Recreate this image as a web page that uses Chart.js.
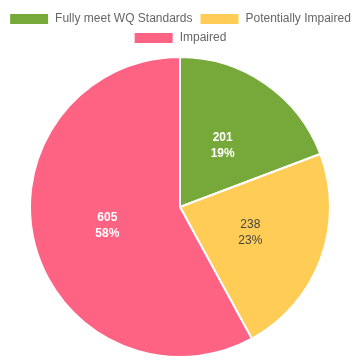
<!DOCTYPE html>
<html>
<head>
<meta charset="utf-8">
<script src="https://cdn.jsdelivr.net/npm/chart.js@4.4.0/dist/chart.umd.min.js"></script>
<style>
  html, body { margin: 0; padding: 0; background: #fff; }
  #wrap { width: 360px; height: 360px; }
</style>
</head>
<body>
<div id="wrap"><canvas id="pie"></canvas></div>
<script>
const categories = ['Fully meet WQ Standards', 'Potentially Impaired', 'Impaired'];
const counts = [201, 238, 605];
const sliceColors = ['#77a83a', '#ffcd56', '#ff6384'];
const labelColors = ['#fff', '#444', '#fff'];
const labelWeights = ['bold', 'normal', 'bold'];

// draws value + percent at the middle of each slice
const sliceLabels = {
  id: 'sliceLabels',
  afterDatasetsDraw(chart) {
    const ctx = chart.ctx;
    const meta = chart.getDatasetMeta(0);
    const total = counts.reduce((a, b) => a + b, 0);
    meta.data.forEach((arc, i) => {
      const mid = (arc.startAngle + arc.endAngle) / 2;
      const r = arc.outerRadius / 2;
      const x = arc.x + Math.cos(mid) * r;
      const y = arc.y + Math.sin(mid) * r;
      const pct = Math.round(counts[i] / total * 100) + '%';
      ctx.save();
      ctx.fillStyle = labelColors[i];
      ctx.font = labelWeights[i] + ' 12px "Liberation Sans", Arial, sans-serif';
      ctx.textAlign = 'center';
      ctx.textBaseline = 'middle';
      ctx.fillText(String(counts[i]), x, y - 8);
      ctx.fillText(pct, x, y + 8);
      ctx.restore();
    });
  }
};

const chart = new Chart(document.getElementById('pie'), {
  type: 'pie',
  data: {
    labels: categories,
    datasets: [{
      data: counts,
      backgroundColor: sliceColors,
      borderColor: '#fff',
      borderWidth: 2
    }]
  },
  options: {
    responsive: true,
    maintainAspectRatio: false,
    animation: false,
    layout: { padding: { left: 0, right: 0, top: 6, bottom: 2 } },
    plugins: {
      legend: {
        position: 'top',
        labels: {
          boxWidth: 40,
          boxHeight: 12,
          padding: 7,
          color: '#666',
          font: { size: 12, family: '"Liberation Sans", Arial, sans-serif' }
        }
      },
      tooltip: { enabled: false }
    }
  },
  plugins: [sliceLabels]
});

// a bit more room under the legend, like the original
const fitLegend = chart.legend.fit;
chart.legend.fit = function () {
  fitLegend.call(this);
  this.height += 2;
};
chart.update();
</script>
</body>
</html>
